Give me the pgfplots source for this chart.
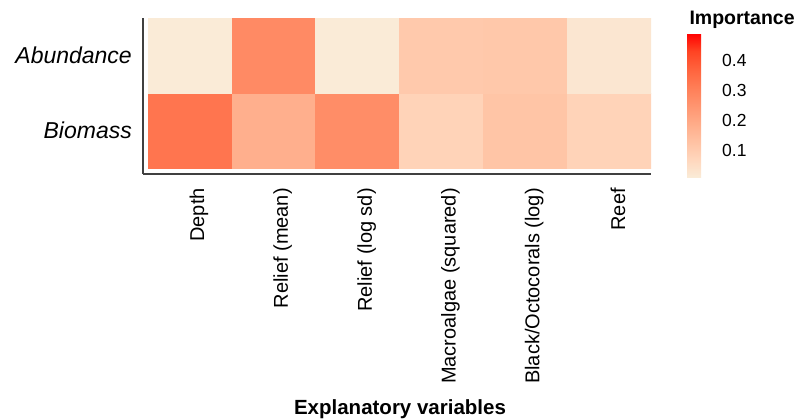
\documentclass[border=0pt]{standalone}
\usepackage{fontspec}
\setmainfont{Liberation Sans}
\usepackage{pgfplots}
\pgfplotsset{compat=1.18}
\pgfplotsset{/pgf/number format/assume math mode=true}
\begin{document}
\begin{tikzpicture}
\useasboundingbox (0,0) rectangle (798bp,420bp);
\begin{axis}[
  at={(143bp,246bp)}, anchor=south west,
  scale only axis, width=508bp, height=156bp,
  xmin=-0.56, xmax=5.5, ymin=-0.58, ymax=1.5,
  axis x line*=bottom, axis y line*=left,
  axis line style={line width=1.6bp, draw=black!75, -},
  xtick={0,...,5},
  xticklabels={Depth, Relief (mean), Relief (log sd), Macroalgae (squared), Black/Octocorals (log), Reef},
  ytick={0,1}, yticklabels={Biomass, Abundance},
  major tick length=0pt,
  xticklabel style={font=\fontsize{20bp}{22bp}\selectfont, rotate=90, anchor=east, inner sep=0pt, yshift=-9bp},
  xticklabel shift=14bp,
  yticklabel style={font=\fontsize{23bp}{26bp}\selectfont\itshape, inner sep=0pt},
  yticklabel shift=11bp,
  colormap={imp}{rgb255=(250,235,215) rgb255=(255,214,188) rgb255=(255,193,162) rgb255=(255,171,136) rgb255=(255,148,111) rgb255=(255,125,86) rgb255=(255,99,61) rgb255=(255,67,35) rgb255=(255,0,0)},
  point meta min=0.01, point meta max=0.49,
  colorbar,
  colorbar style={
    at={(1.0709,0.9038)}, anchor=north west,
    scale only axis, width=28bp, height=144bp,
    ytick={0.1,0.2,0.3,0.4},
    yticklabel style={font=\fontsize{17.5bp}{20bp}\selectfont, inner sep=0pt, /pgf/number format/fixed, /pgf/number format/precision=1},
    yticklabel shift=7bp,
    major tick length=0pt,
    axis line style={draw=none},
  },
]
\addplot[matrix plot*, mesh/cols=6, point meta=explicit] table[meta=v] {
x y v
0 0 0.328
1 0 0.178
2 0 0.269
3 0 0.080
4 0 0.120
5 0 0.080
0 1 0.010
1 1 0.276
2 1 0.010
3 1 0.107
4 1 0.111
5 1 0.024
};
\end{axis}
\node[anchor=base west, font=\fontsize{19.5bp}{22bp}\selectfont\bfseries] at (686bp,395bp) {Importance};
\node[anchor=base, font=\fontsize{20.5bp}{24bp}\selectfont\bfseries] at (400bp,6bp) {Explanatory variables};
\end{tikzpicture}
\end{document}
